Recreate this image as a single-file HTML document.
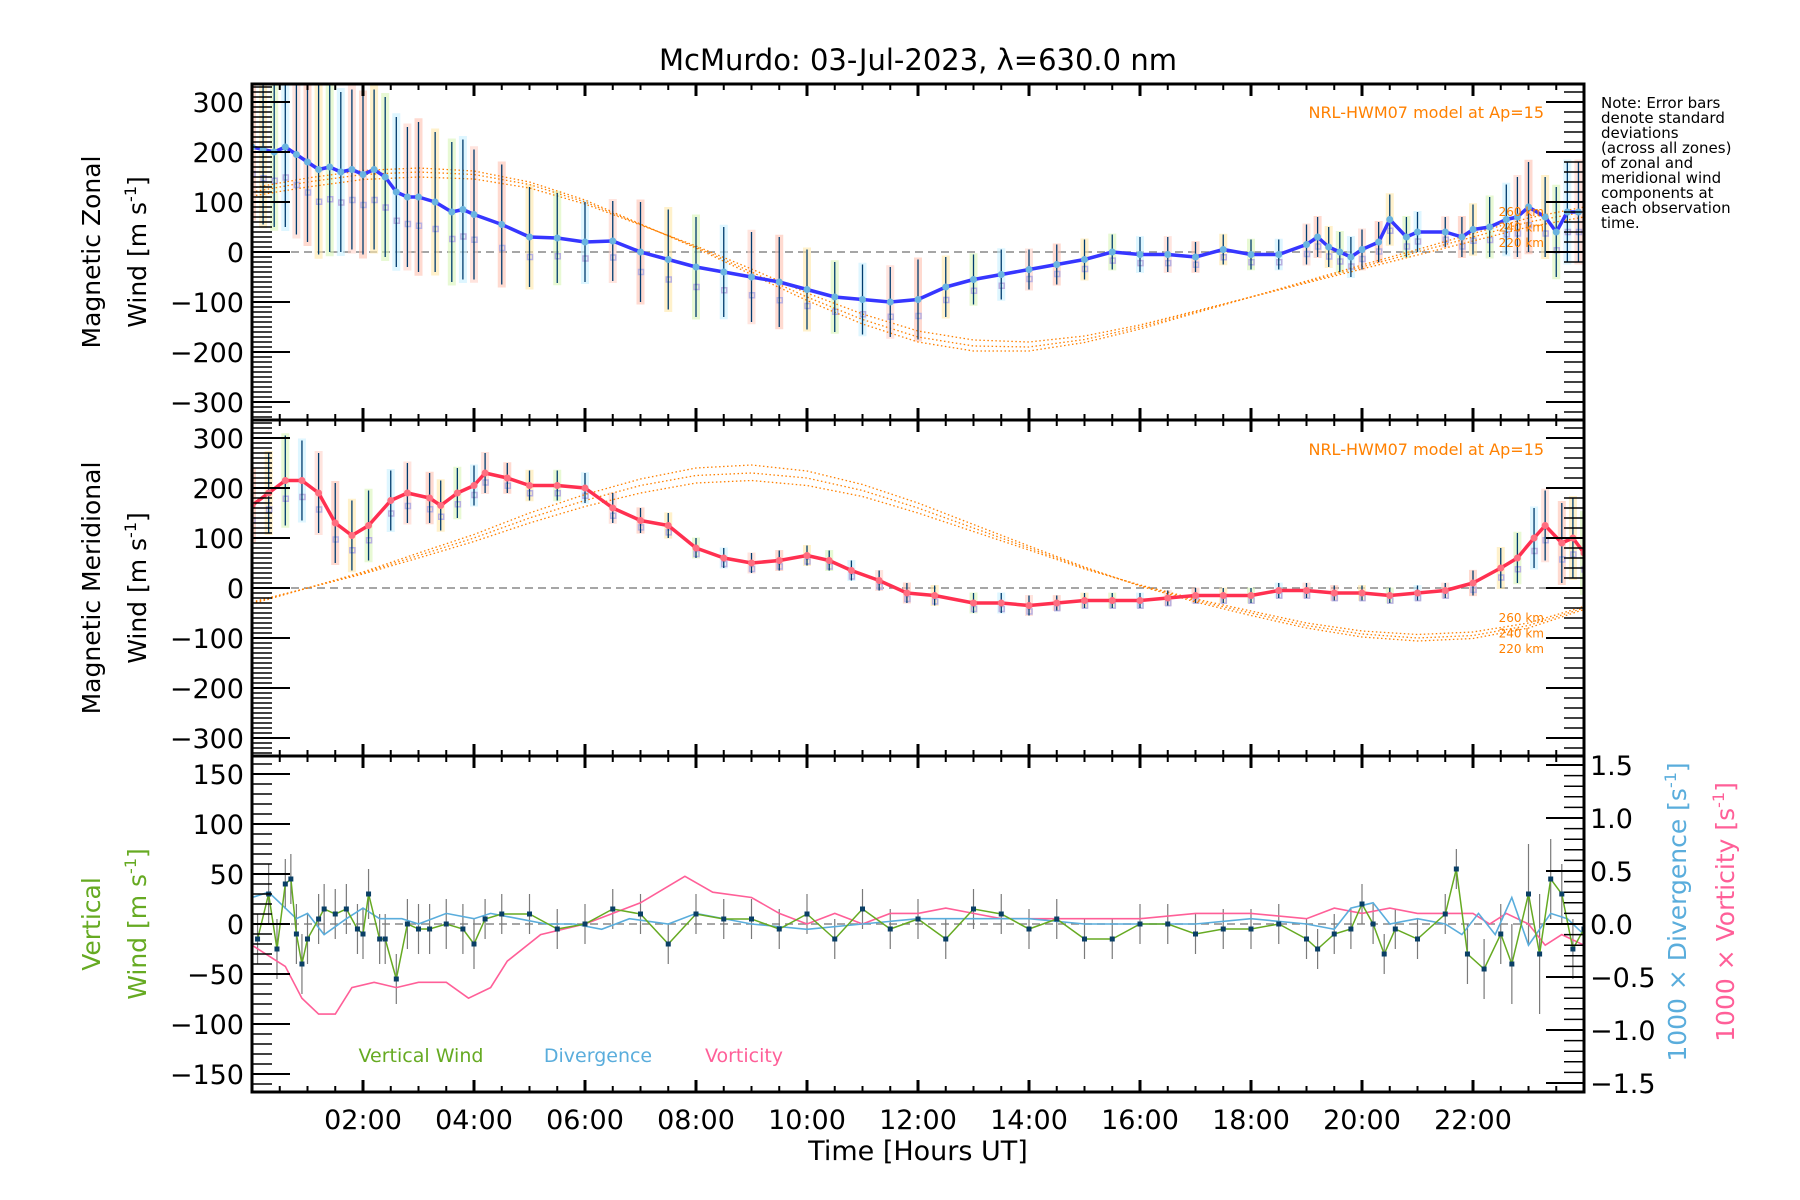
<!DOCTYPE html>
<html><head><meta charset="utf-8"><style>
html,body{margin:0;padding:0;background:#fff}
svg{display:block;font-family:"DejaVu Sans","Liberation Sans",sans-serif}
</style></head><body>
<svg id="chart" width="1800" height="1200" viewBox="0 0 1800 1200" xmlns="http://www.w3.org/2000/svg">
<text x="918" y="70" font-size="29" text-anchor="middle">McMurdo: 03-Jul-2023, λ=630.0 nm</text>
<g id="note" font-size="15">
<text x="1601" y="108">Note: Error bars</text><text x="1601" y="123">denote standard</text><text x="1601" y="138">deviations</text><text x="1601" y="153">(across all zones)</text><text x="1601" y="168">of zonal and</text><text x="1601" y="183">meridional wind</text><text x="1601" y="198">components at</text><text x="1601" y="213">each observation</text><text x="1601" y="228">time.</text>
</g>
</svg>
<script>
// ---- data ----
const zonalT=[0,0.2,0.4,0.6,0.8,1.0,1.2,1.4,1.6,1.8,2.0,2.2,2.4,2.6,2.8,3.0,3.3,3.6,3.8,4.0,4.5,5.0,5.5,6.0,6.5,7.0,7.5,8.0,8.5,9.0,9.5,10.0,10.5,11.0,11.5,12.0,12.5,13.0,13.5,14.0,14.5,15.0,15.5,16.0,16.5,17.0,17.5,18.0,18.5,19.0,19.2,19.4,19.6,19.8,20.0,20.3,20.5,20.8,21.0,21.5,21.8,22.0,22.3,22.6,22.8,23.0,23.3,23.5,23.7,23.9];
const zonalV=[210,205,200,210,195,180,165,170,160,165,155,165,150,120,110,110,100,80,85,75,55,30,28,20,22,0,-15,-30,-40,-50,-60,-75,-90,-95,-100,-95,-70,-55,-45,-35,-25,-15,0,-5,-5,-10,5,-5,-5,15,30,10,0,-10,5,20,65,30,40,40,30,45,50,65,70,90,70,40,80,80];
const zonalE=[140,150,150,160,160,160,170,170,160,160,160,160,160,150,140,150,140,140,140,130,120,100,90,80,80,100,100,100,90,90,90,80,70,70,70,80,60,50,50,40,40,40,35,35,35,30,30,30,30,40,40,40,40,40,40,40,50,40,40,30,40,50,60,70,80,90,80,90,100,100];
const meridT=[0,0.3,0.6,0.9,1.2,1.5,1.8,2.1,2.5,2.8,3.2,3.4,3.7,4.0,4.2,4.6,5.0,5.5,6.0,6.5,7.0,7.5,8.0,8.5,9.0,9.5,10.0,10.4,10.8,11.3,11.8,12.3,13.0,13.5,14.0,14.5,15.0,15.5,16.0,16.5,17.0,17.5,18.0,18.5,19.0,19.5,20.0,20.5,21.0,21.5,22.0,22.5,22.8,23.1,23.3,23.6,23.8,24.0];
const meridV=[165,190,215,215,190,130,105,125,175,190,180,165,190,205,230,220,205,205,200,160,135,125,80,60,50,55,65,55,35,15,-10,-15,-30,-30,-35,-30,-25,-25,-25,-20,-15,-15,-15,-5,-5,-10,-10,-15,-10,-5,10,40,60,100,125,90,100,70];
const meridE=[70,80,90,80,80,80,70,70,60,60,50,50,50,40,40,30,30,30,30,30,25,25,20,20,20,20,20,20,20,20,20,20,20,20,20,15,15,15,15,15,15,15,15,15,15,15,15,15,15,15,25,40,50,60,70,80,80,80];
const hours=[0,1,2,3,4,5,6,7,8,9,10,11,12,13,14,15,16,17,18,19,20,21,22,23,24];
const hwmZonal220=[112,130,145,150,146,128,96,54,12,-34,-82,-124,-158,-176,-180,-168,-146,-118,-90,-62,-34,-6,22,50,70];
const hwmZonal240=[120,140,155,160,155,135,100,55,10,-40,-90,-135,-170,-188,-190,-175,-150,-120,-90,-60,-30,0,30,60,80];
const hwmZonal260=[128,148,163,168,162,140,104,56,8,-45,-97,-144,-180,-198,-198,-181,-154,-122,-90,-58,-26,5,37,68,90];
const hwmMerid220=[-28,0,28,60,93,130,163,190,210,215,205,183,150,113,76,38,6,-22,-46,-70,-86,-93,-88,-70,-37];
const hwmMerid240=[-30,0,30,65,100,140,175,205,225,230,220,195,160,120,80,40,5,-25,-50,-75,-92,-100,-95,-75,-40];
const hwmMerid260=[-32,0,32,70,107,150,187,218,240,246,234,207,170,127,84,42,4,-28,-55,-80,-98,-106,-101,-80,-43];
const vertT=[0.1,0.3,0.45,0.6,0.7,0.8,0.9,1.0,1.2,1.3,1.5,1.7,1.9,2.0,2.1,2.3,2.4,2.6,2.8,3.0,3.2,3.5,3.8,4.0,4.2,4.5,5.0,5.5,6.0,6.5,7.0,7.5,8.0,8.5,9.0,9.5,10.0,10.5,11.0,11.5,12.0,12.5,13.0,13.5,14.0,14.5,15.0,15.5,16.0,16.5,17.0,17.5,18.0,18.5,19.0,19.2,19.5,19.8,20.0,20.2,20.4,20.6,21.0,21.5,21.7,21.9,22.2,22.5,22.7,23.0,23.2,23.4,23.6,23.8,24.0];
const vertV=[-15,30,-25,40,45,-10,-40,-15,5,15,10,15,-5,-10,30,-15,-15,-55,0,-5,-5,0,-5,-20,5,10,10,-5,0,15,10,-20,10,5,5,-5,10,-15,15,-5,5,-15,15,10,-5,5,-15,-15,0,0,-10,-5,-5,0,-15,-25,-10,-5,20,0,-30,-5,-15,10,55,-30,-45,-10,-40,30,-30,45,30,-25,-5];
const vertE=[25,30,30,25,25,30,30,25,25,25,25,25,25,25,25,25,25,25,25,25,25,25,25,25,20,20,20,20,20,20,20,20,20,20,20,20,20,20,20,20,20,20,20,20,20,20,20,20,20,20,20,20,20,20,20,20,20,20,20,20,20,20,20,20,20,30,30,30,40,50,60,40,30,30,30];
const divT=[0,0.3,0.6,0.8,1.0,1.3,1.7,2.0,2.3,2.7,3.0,3.5,4.0,4.3,4.8,5.3,5.8,6.3,6.8,7.5,8.0,9.0,10.0,11.0,12.0,13.0,14.0,15.0,16.0,17.0,18.0,19.0,19.5,19.8,20.2,20.5,21.0,21.5,21.8,22.1,22.4,22.7,23.0,23.4,23.7,24.0];
const divV=[0.25,0.3,0.15,0.05,0.1,-0.1,0.05,0.15,0.05,0.05,0.0,0.1,0.05,0.1,0.05,0.0,0.0,-0.05,0.05,0.0,0.1,0.0,-0.05,0.0,0.05,0.05,0.05,0.0,0.0,0.0,0.05,0.0,-0.05,0.15,0.2,0.0,0.05,0.0,-0.1,0.1,-0.1,0.25,-0.2,0.1,0.05,-0.1];
const vortT=[0,0.3,0.6,0.9,1.2,1.5,1.8,2.2,2.6,3.0,3.5,3.9,4.3,4.6,5.2,6.0,6.5,7.0,7.8,8.3,9.0,9.5,10.0,10.5,11.0,11.5,12.0,12.5,13.0,13.5,14.0,15.0,16.0,17.0,18.0,19.0,19.5,20.0,20.5,21.0,21.5,22.0,22.3,22.6,23.0,23.3,23.6,24.0];
const vortV=[-0.2,-0.3,-0.4,-0.7,-0.85,-0.85,-0.6,-0.55,-0.6,-0.55,-0.55,-0.7,-0.6,-0.35,-0.1,0.0,0.1,0.2,0.45,0.3,0.25,0.1,0.0,0.1,0.0,0.1,0.1,0.15,0.1,0.05,0.05,0.05,0.05,0.1,0.1,0.05,0.15,0.1,0.15,0.1,0.1,0.1,0.0,0.1,0.0,-0.2,-0.1,-0.2];
const xTickLabels=["02:00","04:00","06:00","08:00","10:00","12:00","14:00","16:00","18:00","20:00","22:00"];
const windTicks=[300,200,100,0,-100,-200,-300];
const vertTicks=[150,100,50,0,-50,-100,-150];
const rightTicks=["1.5","1.0","0.5","0.0","−0.5","−1.0","−1.5"];

// ---- layout ----
const svg=document.getElementById('chart');
const NS='http://www.w3.org/2000/svg';
const L=252,R=1584;
const P=[{top:84,bot:420,zero:252,k:0.5},{top:420,bot:756,zero:588,k:0.5},{top:756,bot:1092,zero:924,k:1.0}];
const RK=106;
const x=h=>L+h*(R-L)/24;
function y(p,v){return P[p].zero-v*P[p].k;}
function yr(v){return 924-v*RK;}
function mk(tag,attrs,parent){const e=document.createElementNS(NS,tag);for(const k in attrs)e.setAttribute(k,attrs[k]);(parent||svg).appendChild(e);return e;}
function clip(id,p){const c=mk('clipPath',{id:id});mk('rect',{x:L,y:P[p].top,width:R-L,height:P[p].bot-P[p].top},c);}
clip('c0',0);clip('c1',1);clip('c2',2);
function pathOf(ts,vs,f){return ts.map((t,i)=>(i?'L':'M')+x(t).toFixed(1)+','+f(vs[i]).toFixed(1)).join(' ');}
const pastel=['#ffc2b0','#ffe8a8','#d8f5b8','#c8f0ff','#ffd2c8'];

function windPanel(p,T,V,E,line,pt,m220,m240,m260,name){
  const g=mk('g',{'clip-path':'url(#c'+p+')'});
  
  
  mk('line',{x1:L,x2:R,y1:P[p].zero,y2:P[p].zero,stroke:'#888','stroke-dasharray':'8,5','stroke-width':1.5},g);
  T.forEach((t,i)=>{
    const yt=y(p,V[i]+E[i]*1.05),yb=y(p,V[i]-E[i]*1.05);
    const r=mk('rect',{x:x(t)-4,y:yt,width:8,height:yb-yt,fill:pastel[i%5],opacity:0.6},g);
    
    
    const s=mk('rect',{x:x(t)-2,y:y(p,V[i]-E[i]*0.35),width:5,height:5,fill:'none',stroke:'#b8b0e0','stroke-width':1.5},g);
    
    
  });
  [m220,m240,m260].forEach((m,j)=>{
    const l=mk('path',{d:pathOf(hours,m,v=>y(p,v)),fill:'none',stroke:'#ff8000','stroke-width':1.3,'stroke-dasharray':'1.5,2.5'},g);
    
    
  });
  T.forEach((t,i)=>{
    const e=mk('line',{x1:x(t),x2:x(t),y1:y(p,V[i]+E[i]),y2:y(p,V[i]-E[i]),stroke:'#003c6e','stroke-width':1.3},g);
    
    
  });
  const ln=mk('path',{d:pathOf(T,V,v=>y(p,v)),fill:'none',stroke:line,'stroke-width':3.5,'stroke-linejoin':'round'},g);
  
  
  T.forEach((t,i)=>{
    const c=mk('circle',{cx:x(t),cy:y(p,V[i]),r:3.5,fill:pt},g);
    
    
  });
}
windPanel(0,zonalT,zonalV,zonalE,'#3636ff','#6ab4e0',hwmZonal220,hwmZonal240,hwmZonal260,'zonal');
windPanel(1,meridT,meridV,meridE,'#ff3050','#ff6e80',hwmMerid220,hwmMerid240,hwmMerid260,'meridional');

const g3=mk('g',{'clip-path':'url(#c2)'});


mk('line',{x1:L,x2:R,y1:924,y2:924,stroke:'#888','stroke-dasharray':'8,5','stroke-width':1.5},g3);
vertT.forEach((t,i)=>{
  const e=mk('line',{x1:x(t),x2:x(t),y1:y(2,vertV[i]+vertE[i]),y2:y(2,vertV[i]-vertE[i]),stroke:'#7a7a7a','stroke-width':1.2},g3);
  
  
});
const vort=mk('path',{d:pathOf(vortT,vortV,yr),fill:'none',stroke:'#ff5f98','stroke-width':1.6},g3);


const div=mk('path',{d:pathOf(divT,divV,yr),fill:'none',stroke:'#5aaddc','stroke-width':1.6},g3);


const vw=mk('path',{d:pathOf(vertT,vertV,v=>y(2,v)),fill:'none',stroke:'#66aa22','stroke-width':1.5},g3);


vertT.forEach((t,i)=>{
  const r=mk('rect',{x:x(t)-2.5,y:y(2,vertV[i])-2.5,width:5,height:5,fill:'#0a3f66'},g3);
  
  
});

const ax=mk('g',{stroke:'#000','stroke-width':1.5});


P.forEach((pp,p)=>{
  mk('rect',{x:L,y:pp.top,width:R-L,height:pp.bot-pp.top,fill:'none','stroke-width':3},ax);
  for(let h=0;h<=24;h+=0.5){
    const maj=(h%2===0)?12:6;
    mk('line',{x1:x(h),x2:x(h),y1:pp.top,y2:pp.top+maj,'stroke-width':maj>6?3:2},ax);
    mk('line',{x1:x(h),x2:x(h),y1:pp.bot,y2:pp.bot-maj,'stroke-width':maj>6?3:2},ax);
  }
  const step=10,lim=p<2?330:165;
  for(let v=-lim+(lim%step);v<=lim;v+=step){
    const yy=y(p,v); if(yy<pp.top+1||yy>pp.bot-1)continue;
    const maj=(p<2?v%100===0:v%50===0);
    const len=maj?38:20;
    mk('line',{x1:L,x2:L+len,y1:yy,y2:yy,'stroke-width':maj?2:1.5},ax);
    if(p<2&&(maj||v%20===0)) mk('line',{x1:R,x2:R-len,y1:yy,y2:yy,'stroke-width':maj?2:1.5},ax);
  }
  if(p===2){
    for(let v=-1.5;v<=1.51;v+=0.1){
      const maj=Math.abs(Math.round(v*10)%5)===0;
      mk('line',{x1:R,x2:R-(maj?38:20),y1:yr(v),y2:yr(v),'stroke-width':maj?2:1.5},ax);
    }
  }
});
const tl=mk('g',{'font-size':27,'text-anchor':'end'});


[0,1].forEach(p=>windTicks.forEach(v=>{const t=mk('text',{x:L-8,y:y(p,v)+10},tl);t.textContent=String(v).replace('-','−');}));
vertTicks.forEach(v=>{const t=mk('text',{x:L-8,y:y(2,v)+10},tl);t.textContent=String(v).replace('-','−');});
const rtl=mk('g',{'font-size':27,'text-anchor':'start'});


rightTicks.forEach((s,i)=>{const t=mk('text',{x:R+6,y:yr(1.5-i*0.5)+10},rtl);t.textContent=s;});
const xl=mk('g',{'font-size':27,'text-anchor':'middle'});


xTickLabels.forEach((s,i)=>{const t=mk('text',{x:x(2+2*i),y:1129},xl);t.textContent=s;});

function txt(s,a,name,parent){const t=mk('text',a,parent);t.textContent=s;return t;}
function rot(lines,cx,cy,color,name){
  const g=mk('g',{fill:color,'font-size':25,'text-anchor':'middle'});
  
  
  lines.forEach((l,i)=>{const t=mk('text',{x:0,y:0,transform:`translate(${cx[i]},${cy}) rotate(-90)`},g);t.innerHTML=l;});
}
rot(['Magnetic Zonal','Wind [m s<tspan font-size="16" dy="-10">-1</tspan><tspan dy="10">]</tspan>'],[100,146],252,'#000','zonal-y-axis-title');
rot(['Magnetic Meridional','Wind [m s<tspan font-size="16" dy="-10">-1</tspan><tspan dy="10">]</tspan>'],[100,146],588,'#000','meridional-y-axis-title');
rot(['Vertical','Wind [m s<tspan font-size="16" dy="-10">-1</tspan><tspan dy="10">]</tspan>'],[100,146],924,'#66aa22','vertical-y-axis-title');
rot(['1000 × Divergence [s<tspan font-size="16" dy="-10">-1</tspan><tspan dy="10">]</tspan>'],[1686],912,'#5aaddc','divergence-axis-title');
rot(['1000 × Vorticity [s<tspan font-size="16" dy="-10">-1</tspan><tspan dy="10">]</tspan>'],[1734],912,'#ff5f98','vorticity-axis-title');
txt('Time [Hours UT]',{x:918,y:1160,'font-size':27,'text-anchor':'middle'},'x-axis-title');
txt('NRL-HWM07 model at Ap=15',{x:1544,y:118,'font-size':16,fill:'#ff8000','text-anchor':'end'},'hwm-label-zonal');
txt('NRL-HWM07 model at Ap=15',{x:1544,y:455,'font-size':16,fill:'#ff8000','text-anchor':'end'},'hwm-label-meridional');
['260 km','240 km','220 km'].forEach((s,i)=>{
  txt(s,{x:1544,y:622+i*15.5,'font-size':12,fill:'#ff8000','text-anchor':'end'},'altitude-label');
  txt(s,{x:1544,y:216+i*15.5,'font-size':12,fill:'#ff8000','text-anchor':'end'},'altitude-label');
});
txt('Vertical Wind',{x:421,y:1062,'font-size':19,fill:'#66aa22','text-anchor':'middle'},'legend-vertical-wind');
txt('Divergence',{x:598,y:1062,'font-size':19,fill:'#5aaddc','text-anchor':'middle'},'legend-divergence');
txt('Vorticity',{x:744,y:1062,'font-size':19,fill:'#ff5f98','text-anchor':'middle'},'legend-vorticity');
</script>
</body></html>
